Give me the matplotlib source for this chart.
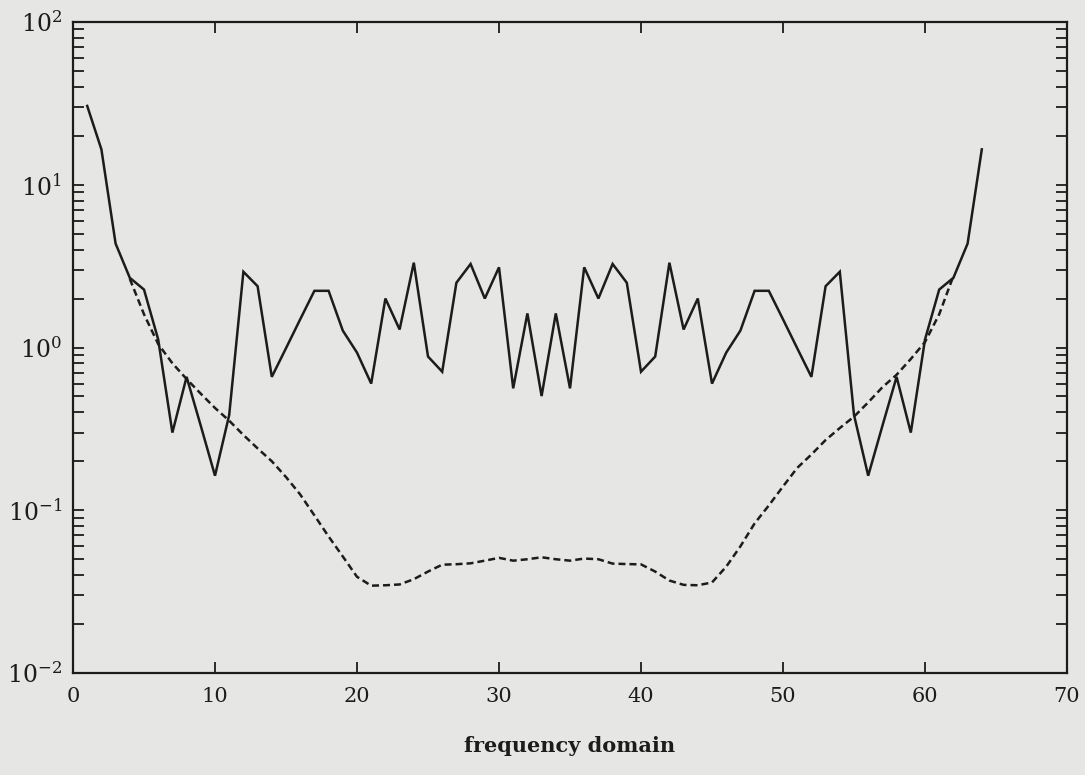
import matplotlib
matplotlib.use("Agg")
import matplotlib.pyplot as plt
from matplotlib.ticker import LogLocator, FixedLocator, NullLocator
import numpy as np

# spectrum (solid), points k = 1..64
freq = list(range(1, 65))
spectrum = [30.5, 16.5, 4.35, 2.68, 2.27, 1.12, 0.30, 0.66, 0.33, 0.163,
            0.385, 2.92, 2.38, 0.66, 0.99, 1.49, 2.23, 2.23, 1.27, 0.93,
            0.60, 2.00, 1.29, 3.32, 0.88, 0.71, 2.50, 3.26, 2.00, 3.11,
            0.561, 1.62, 0.503, 1.62, 0.561, 3.11, 2.00, 3.26, 2.50, 0.71,
            0.88, 3.32, 1.29, 2.00, 0.60, 0.93, 1.27, 2.23, 2.23, 1.49,
            0.99, 0.66, 2.38, 2.92, 0.385, 0.163, 0.33, 0.66, 0.30, 1.12,
            2.27, 2.68, 4.35, 16.5]

# smooth envelope (dashed), k = 4..62
env_freq = list(range(4, 63))
envelope = [2.64, 1.60, 1.05, 0.80, 0.64, 0.52, 0.425, 0.355, 0.29, 0.24,
            0.20, 0.16, 0.125, 0.093, 0.069, 0.052, 0.039, 0.0344, 0.0346, 0.035,
            0.0377, 0.042, 0.0463, 0.0466, 0.0472, 0.049, 0.051, 0.049, 0.050, 0.0514,
            0.050, 0.049, 0.0505, 0.050, 0.047, 0.0467, 0.0465, 0.042, 0.037, 0.0348,
            0.0346, 0.036, 0.045, 0.060, 0.083, 0.107, 0.14, 0.182, 0.22, 0.27,
            0.32, 0.376, 0.46, 0.57, 0.68, 0.85, 1.08, 1.60, 2.75]

xticks = [0, 10, 20, 30, 40, 50, 60, 70]

paper = "#e6e6e4"
ink = "#1c1c1c"

plt.rcParams["font.family"] = ["DejaVu Serif"]
plt.rcParams["mathtext.fontset"] = "dejavuserif"

fig = plt.figure(figsize=(10.85, 7.75), dpi=100, facecolor=paper)
ax = fig.add_axes([73 / 1085, 1 - 673 / 775, (1067 - 73) / 1085, (673 - 22) / 775])
ax.set_facecolor(paper)

ax.plot(freq, spectrum, color=ink, lw=1.8, solid_joinstyle="miter")
ax.plot(env_freq, envelope, color=ink, lw=1.8, ls=(0, (2.8, 1.6)))

ax.set_yscale("log")
ax.set_xlim(0, 70)
ax.set_ylim(1e-2, 1e2)
ax.xaxis.set_major_locator(FixedLocator(xticks))
ax.xaxis.set_minor_locator(NullLocator())
ax.yaxis.set_major_locator(LogLocator(base=10, numticks=10))
ax.yaxis.set_minor_locator(LogLocator(base=10, subs=np.arange(2, 10), numticks=20))

ax.tick_params(which="both", direction="in", top=True, right=True,
               length=8, width=1.3, color=ink)
ax.tick_params(axis="x", labelsize=15, pad=10, labelcolor=ink)
ax.tick_params(axis="y", labelsize=17, pad=8, labelcolor=ink)
for s in ax.spines.values():
    s.set_linewidth(1.6)
    s.set_color(ink)

ax.set_xlabel("frequency domain", fontsize=15, fontweight="bold", color=ink, labelpad=22)

fig.savefig("out.png", dpi=100, facecolor=paper)
